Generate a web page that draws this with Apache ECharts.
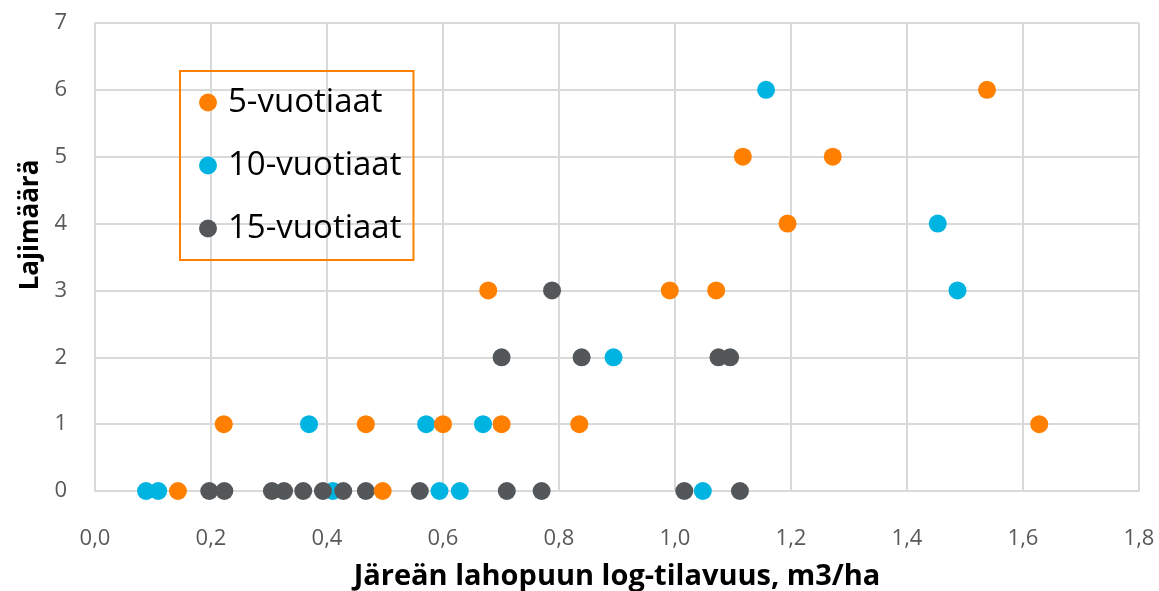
<!DOCTYPE html>
<html>
<head>
<meta charset="utf-8">
<script src="https://cdn.jsdelivr.net/npm/echarts@6/dist/echarts.min.js"></script>
<style>
  html, body { margin: 0; padding: 0; background: #fff; }
</style>
</head>
<body>
<div id="myChart" style="width: 1159px; height: 591px;"></div>
<script>
// 5-vuotiaat
const age5X = [0.143, 0.496, 0.222, 0.467, 0.600, 0.701, 0.835, 1.628, 0.678, 0.991, 1.071, 1.194, 1.117, 1.272, 1.538];
const age5Y = [0, 0, 1, 1, 1, 1, 1, 1, 3, 3, 3, 4, 5, 5, 6];
// 10-vuotiaat
const age10X = [0.088, 0.109, 0.410, 0.594, 0.629, 1.048, 0.369, 0.571, 0.669, 0.894, 1.487, 1.453, 1.157];
const age10Y = [0, 0, 0, 0, 0, 0, 1, 1, 1, 2, 3, 4, 6];
// 15-vuotiaat
const age15X = [0.197, 0.223, 0.305, 0.326, 0.359, 0.393, 0.428, 0.467, 0.560, 0.710, 0.770, 1.016, 1.112, 0.701, 0.839, 1.075, 1.095, 0.788];
const age15Y = [0, 0, 0, 0, 0, 0, 0, 0, 0, 0, 0, 0, 0, 2, 2, 2, 2, 3];

const seriesNames = ["5-vuotiaat", "10-vuotiaat", "15-vuotiaat"];
const xTitle = "Järeän lahopuun log-tilavuus, m3/ha";
const yTitle = "Lajimäärä";

function pairs(xs, ys) {
  return xs.map((x, i) => [x, ys[i]]);
}

const font = "'Open Sans', 'Noto Sans', sans-serif";
const myChart = echarts.init(document.getElementById("myChart"));

myChart.setOption({
  animation: false,
  color: ["#FF8000", "#00B4E2", "#53575A"],
  textStyle: { fontFamily: font },
  grid: {
    left: 95,
    right: 20,
    top: 23,
    bottom: 100
  },
  legend: {
    data: seriesNames,
    orient: "vertical",
    left: 180,
    top: 71,
    icon: "circle",
    itemWidth: 18,
    itemHeight: 18,
    itemGap: 30,
    padding: [15, 12, 15, 19],
    borderColor: "#FF8000",
    borderWidth: 2,
    textStyle: {
      fontSize: 33,
      color: "#000",
      fontFamily: font,
      padding: [0, 0, 0, 6]
    }
  },
  xAxis: {
    type: "value",
    min: 0,
    max: 1.8,
    interval: 0.2,
    axisLine: { lineStyle: { color: "#D9D9D9", width: 2 } },
    axisTick: { show: false },
    splitLine: { lineStyle: { color: "#D9D9D9", width: 2 } },
    axisLabel: {
      fontSize: 22,
      color: "#595959",
      margin: 37,
      formatter: v => v.toFixed(1).replace(".", ",")
    }
  },
  yAxis: {
    type: "value",
    min: 0,
    max: 7,
    interval: 1,
    axisLine: { show: true, lineStyle: { color: "#D9D9D9", width: 2 } },
    axisTick: { show: false },
    splitLine: { lineStyle: { color: "#D9D9D9", width: 2 } },
    axisLabel: {
      fontSize: 22,
      color: "#595959",
      margin: 28
    }
  },
  graphic: [
    {
      type: "text",
      x: 617,
      y: 577,
      style: {
        text: xTitle,
        font: "bold 29px " + font,
        fill: "#000",
        textAlign: "center",
        textVerticalAlign: "middle"
      }
    },
    {
      type: "text",
      x: 31,
      y: 225,
      rotation: Math.PI / 2,
      style: {
        text: yTitle,
        font: "bold 26px " + font,
        fill: "#000",
        textAlign: "center",
        textVerticalAlign: "middle"
      }
    }
  ],
  series: [
    {
      name: seriesNames[0],
      type: "scatter",
      symbolSize: 18,
      z: 4,
      itemStyle: { opacity: 1 },
      data: pairs(age5X, age5Y)
    },
    {
      name: seriesNames[1],
      type: "scatter",
      symbolSize: 18,
      z: 2,
      itemStyle: { opacity: 1 },
      data: pairs(age10X, age10Y)
    },
    {
      name: seriesNames[2],
      type: "scatter",
      symbolSize: 18,
      z: 3,
      itemStyle: { opacity: 1 },
      data: pairs(age15X, age15Y)
    }
  ]
});
</script>
</body>
</html>
